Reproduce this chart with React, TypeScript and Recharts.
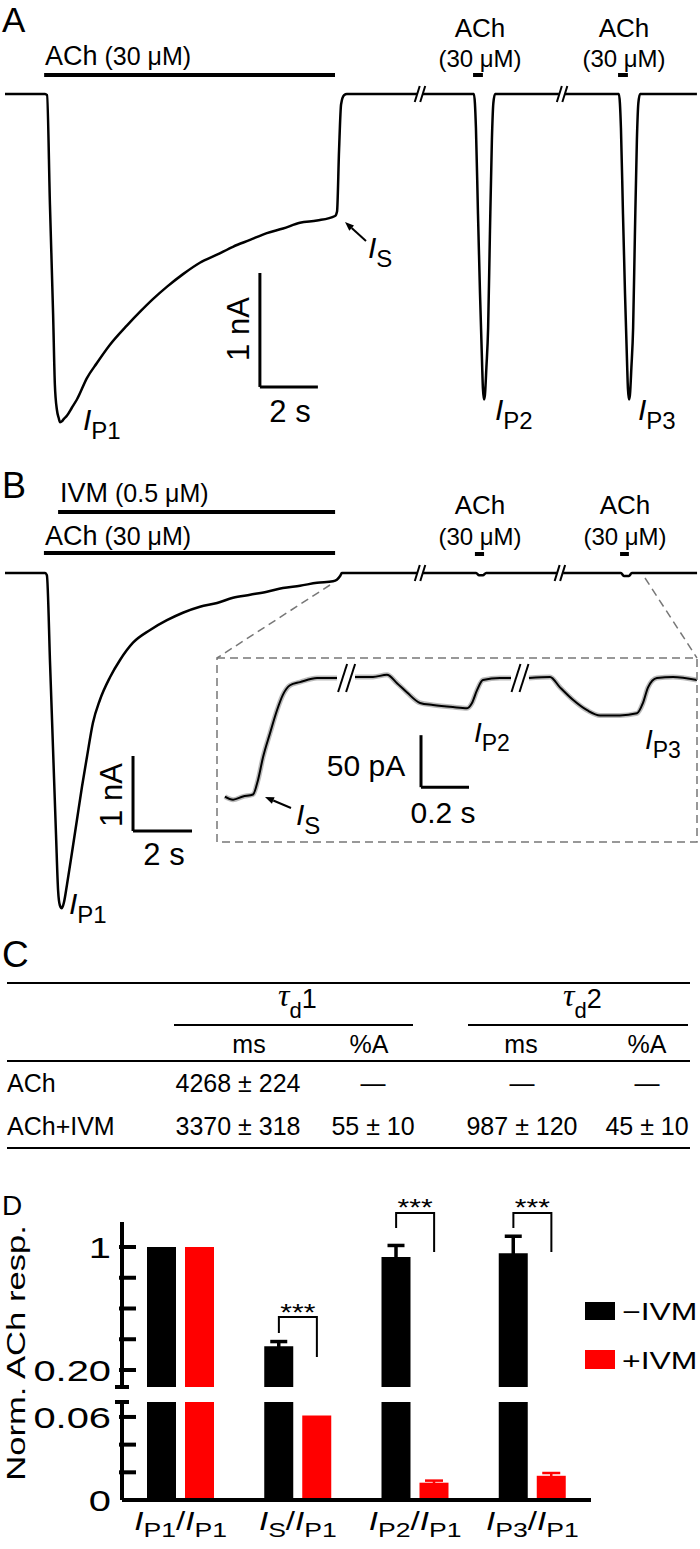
import React from 'react';
import { LineChart, Line, XAxis, YAxis, ReferenceLine, BarChart, Bar, ErrorBar } from 'recharts';

const SANS = '"Liberation Sans", Arial, Helvetica, sans-serif';
const SERIF = '"Liberation Serif", "Times New Roman", serif';
const RED = '#ff0000';
const STRETCH = 1.33; // panel D lettering is set wide

// ---------- traces: [time (s), current] ; null marks an axis break ----------
const TRACE_A: [number, number | null][] = [
  [0, 0], [0.86, 0], [1.38, 0], [1.45, -0.01], [1.55, -0.97], [1.66, -1.94], [1.72, -2.55],
  [1.79, -2.77], [1.85, -2.84], [1.9, -2.88], [1.97, -2.87], [2.03, -2.85], [2.14, -2.82],
  [2.31, -2.75], [2.48, -2.68], [2.83, -2.49], [3.17, -2.36], [3.62, -2.2], [4.21, -2.03],
  [4.66, -1.91], [5.1, -1.8], [5.59, -1.69], [6.14, -1.58], [6.72, -1.48], [7.31, -1.41],
  [7.86, -1.34], [8.45, -1.28], [9.03, -1.22], [9.59, -1.18], [10.17, -1.13], [10.76, -1.11],
  [11.38, -1.07], [11.45, -1.03], [11.52, -0.49], [11.59, -0.09], [11.69, -0.01], [11.79, 0],
  [12.93, 0], [14.21, 0], [14.31, null], [14.41, 0], [15.34, 0],
  [16.17, 0], [16.24, -0.3], [16.31, -1.05], [16.38, -1.75], [16.45, -2.35], [16.48, -2.58],
  [16.52, -2.68], [16.55, -2.64], [16.6, -2.4], [16.66, -2.05], [16.72, -1.25], [16.79, -0.4],
  [16.84, -0.08], [16.9, 0], [18.1, 0], [19.1, 0], [19.21, null], [19.31, 0], [20.34, 0],
  [21.17, 0], [21.24, -0.3], [21.31, -1.05], [21.38, -1.75], [21.45, -2.35], [21.48, -2.58],
  [21.52, -2.68], [21.55, -2.64], [21.6, -2.4], [21.66, -2.05], [21.72, -1.25], [21.79, -0.4],
  [21.84, -0.08], [21.9, 0], [23.86, 0],
];

const TRACE_B: [number, number | null][] = [
  [0, 0], [1.36, 0], [1.42, -0.03], [1.53, -1.23], [1.63, -2.36], [1.73, -3.49], [1.8, -4.23],
  [1.86, -4.43], [1.93, -4.47], [2.0, -4.39], [2.1, -4.16], [2.27, -3.73], [2.44, -3.29],
  [2.61, -2.85], [2.78, -2.45], [2.98, -2.0], [3.22, -1.69], [3.56, -1.39], [3.9, -1.16],
  [4.34, -0.93], [4.92, -0.76], [5.49, -0.63], [6.03, -0.53], [6.61, -0.45], [7.19, -0.4],
  [7.73, -0.33], [8.31, -0.29], [8.88, -0.25], [9.42, -0.2], [10.0, -0.17], [10.58, -0.13],
  [11.12, -0.11], [11.25, -0.09], [11.36, -0.04], [11.42, 0], [12.71, 0], [13.97, 0],
  [14.07, null], [14.17, 0], [15.97, 0], [16.07, -0.03], [16.2, -0.03], [16.31, 0], [18.71, 0],
  [18.81, null], [18.92, 0], [20.88, 0], [20.98, -0.04], [21.15, -0.04], [21.25, 0], [23.46, 0],
];

// inset: time (s), current (pA) relative to the plateau
const TRACE_INSET: [number, number | null][] = [
  [0.033, -114], [0.067, -117], [0.108, -114], [0.15, -112], [0.171, -98], [0.192, -76],
  [0.221, -53], [0.25, -31], [0.275, -16], [0.304, -7], [0.346, -4], [0.417, 0], [0.5, 0],
  [0.54, null], [0.575, 1], [0.65, 1], [0.708, 3], [0.75, -5], [0.792, -14], [0.846, -24],
  [0.9, -26], [0.983, -28], [1.042, -29], [1.0625, -24], [1.083, -12], [1.108, -2], [1.179, 0],
  [1.225, 0], [1.2625, null], [1.3, 0], [1.3875, 1], [1.429, -9], [1.483, -21], [1.542, -31],
  [1.596, -36], [1.679, -36], [1.75, -34], [1.775, -24], [1.796, -9], [1.833, 0], [1.9, 1],
  [2.0, -2],
];

// drug application bars: [start s, end s, level]
const APPS_A: [number, number, number][] = [[1.35, 11.38, 0.167], [16.14, 16.48, 0.167], [21.14, 21.48, 0.167]];
const APPS_B: [number, number, number][] = [
  [1.8, 11.19, 0.813], [1.32, 11.19, 0.267], [15.93, 16.24, 0.253], [20.85, 21.15, 0.253],
];
const BREAKS_A = [14.31, 19.21];
const BREAKS_B = [14.07, 18.81];
const BREAKS_INSET = [0.54, 1.2625];

// ---------- panel C table ----------
const TABLE_ROWS = ['ACh', 'ACh+IVM'];
const TAU1_MS = ['4268 ± 224', '3370 ± 318'];
const TAU1_PCT = ['—', '55 ± 10'];
const TAU2_MS = ['—', '987 ± 120'];
const TAU2_PCT = ['—', '45 ± 10'];

// ---------- panel D bars ----------
const CATEGORIES = ['IP1/IP1', 'IS/IP1', 'IP2/IP1', 'IP3/IP1'];
const X_SUBS = ['P1', 'S', 'P2', 'P3'];
const MINUS_IVM = [1, 0.355, 0.935, 0.96];
const MINUS_IVM_ERR = [0, 0.03, 0.075, 0.11];
const PLUS_IVM = [1, 0.061, 0.0125, 0.0175];
const PLUS_IVM_ERR = [0, 0, 0.0015, 0.002];
const UPPER_TICKS = [0.2, 0.4, 0.6, 0.8, 1];
const LOWER_TICKS = [0, 0.02, 0.04, 0.06];
const UPPER_LABELS: Record<string, string> = { '1': '1', '0.2': '0.20' };
const LOWER_LABELS: Record<string, string> = { '0': '0', '0.06': '0.06' };

const UP_MIN = 0.0894;
const UP_MAX = 1.1626;
const LOW_MAX = 0.0708;

const toRows = (tr: [number, number | null][]) => tr.map(([t, i]) => ({ t, i }));

const slashes = (tc: number, yc: number, tpp: number, ipp: number, off: number, hw: number, hh: number) =>
  [-1, 1].map((k) => {
    const cx = tc + k * off * tpp;
    return [
      { x: cx - hw * tpp, y: yc - hh * ipp },
      { x: cx + hw * tpp, y: yc + hh * ipp },
    ];
  });

const ISub = ({ x, y, sub, size = 30, subSize = 24, shift = 9 }: any) => (
  <text x={x} y={y} fontSize={size} fontFamily={SANS}>
    <tspan fontStyle="italic">I</tspan>
    <tspan fontSize={subSize} dy={shift}>{sub}</tspan>
  </text>
);

const Arrow = ({ tip, tail }: { tip: [number, number]; tail: [number, number] }) => {
  const dx = tail[0] - tip[0];
  const dy = tail[1] - tip[1];
  const len = Math.hypot(dx, dy);
  const ux = dx / len;
  const uy = dy / len;
  const bx = tip[0] + ux * 9;
  const by = tip[1] + uy * 9;
  const px = -uy * 3.5;
  const py = ux * 3.5;
  return (
    <g>
      <line x1={bx} y1={by} x2={tail[0]} y2={tail[1]} stroke="#000" strokeWidth={2} />
      <polygon points={`${tip[0]},${tip[1]} ${bx + px},${by + py} ${bx - px},${by - py}`} fill="#000" />
    </g>
  );
};

const DrugLabel = ({ cx, y1, y2 }: { cx: number; y1: number; y2: number }) => (
  <g fontFamily={SANS} textAnchor="middle">
    <text x={cx} y={y1} fontSize={26}>ACh</text>
    <text x={cx} y={y2} fontSize={24}>(30 μM)</text>
  </g>
);

const YTick = ({ x, y, payload, labels, cap }: any) => {
  const v = payload.value;
  const label = labels[String(v)];
  const isCap = Math.abs(v - cap) < 1e-9;
  return (
    <g>
      {isCap ? (
        <line x1={x - 7} x2={x + 7} y1={y} y2={y} stroke="#000" strokeWidth={4} />
      ) : v !== 0 ? (
        <line x1={x - 3} x2={x + 14} y1={y} y2={y} stroke="#000" strokeWidth={4} />
      ) : null}
      {label && (
        <g transform={`translate(${x - 11},${y + 11}) scale(${STRETCH},1)`}>
          <text x={0} y={0} textAnchor="end" fontSize={30} fontFamily={SANS}>{label}</text>
        </g>
      )}
    </g>
  );
};

const XTick = ({ x, y, payload }: any) => {
  const k = CATEGORIES.indexOf(payload.value);
  return (
    <g transform={`translate(${x},${y + 30}) scale(${STRETCH},1)`}>
      <text x={0} y={0} textAnchor="middle" fontSize={25} fontFamily={SANS}>
        <tspan fontStyle="italic">I</tspan>
        <tspan fontSize={20} dy={7}>{X_SUBS[k]}</tspan>
        <tspan dy={-7}>/</tspan>
        <tspan fontStyle="italic">I</tspan>
        <tspan fontSize={20} dy={7}>P1</tspan>
      </text>
    </g>
  );
};

// panel D plot geometry
const D_LEFT = 122;
const D_RIGHT = 591;
const Y_AXIS_W = 60;
const bandW = (D_RIGHT - D_LEFT) / CATEGORIES.length;
const blackX = (k: number) => D_LEFT + bandW * (k + 0.5) - 19;
const redX = (k: number) => D_LEFT + bandW * (k + 0.5) + 19;

const Bracket = ({ k, top, leftEnd, rightEnd, starY }: any) => (
  <g>
    <polyline
      points={`${blackX(k)},${leftEnd} ${blackX(k)},${top} ${redX(k)},${top} ${redX(k)},${rightEnd}`}
      fill="none"
      stroke="#000"
      strokeWidth={2}
    />
    <g transform={`translate(${(blackX(k) + redX(k)) / 2},${starY}) scale(1.25,1)`}>
      <text x={0} y={0} textAnchor="middle" fontSize={24} fontFamily={SANS}>***</text>
    </g>
  </g>
);

export default function App() {
  const rowsA = toRows(TRACE_A);
  const rowsB = toRows(TRACE_B);
  const rowsInset = toRows(TRACE_INSET);

  const upperData = CATEGORIES.map((name, k) => ({
    name,
    minus: MINUS_IVM[k] >= UP_MIN ? MINUS_IVM[k] : null,
    plus: PLUS_IVM[k] >= UP_MIN ? PLUS_IVM[k] : null,
    minusErr: MINUS_IVM_ERR[k],
  }));
  const lowerData = CATEGORIES.map((name, k) => ({
    name,
    minus: Math.min(MINUS_IVM[k], LOW_MAX),
    plus: Math.min(PLUS_IVM[k], LOW_MAX),
    plusErr: PLUS_IVM_ERR[k],
  }));

  const valCols = [238, 373, 522, 647];
  const headCols = [249, 369, 521, 647];
  const rowY = [1092, 1135];

  return (
    <div style={{ position: 'absolute', left: 0, top: 0, width: 700, height: 1549, background: '#fff', fontFamily: SANS }}>
      {/* Panel A */}
      <div style={{ position: 'absolute', left: 0, top: 0 }}>
        <LineChart width={700} height={450} data={rowsA} margin={{ top: 0, right: 0, bottom: 0, left: 0 }}>
          <XAxis type="number" dataKey="t" domain={[-0.172, 23.966]} hide allowDataOverflow />
          <YAxis type="number" domain={[-3.123, 0.825]} hide allowDataOverflow />
          <Line dataKey="i" type="monotone" stroke="#000" strokeWidth={2.5} dot={false} activeDot={false} isAnimationActive={false} connectNulls={false} />
          {APPS_A.map(([a, b, lv], k) => (
            <ReferenceLine key={`aa${k}`} segment={[{ x: a, y: lv }, { x: b, y: lv }]} stroke="#000" strokeWidth={4} ifOverflow="visible" />
          ))}
          {BREAKS_A.flatMap((tc, k) =>
            slashes(tc, 0, 1 / 29, 1 / 114, 2.75, 2.5, 8).map((seg, j) => (
              <ReferenceLine key={`ab${k}${j}`} segment={seg} stroke="#000" strokeWidth={2} ifOverflow="visible" />
            ))
          )}
          <ReferenceLine segment={[{ x: 8.79, y: -2.57 }, { x: 8.79, y: -1.57 }]} stroke="#000" strokeWidth={3} ifOverflow="visible" />
          <ReferenceLine segment={[{ x: 8.79, y: -2.57 }, { x: 10.79, y: -2.57 }]} stroke="#000" strokeWidth={3} ifOverflow="visible" />
        </LineChart>
      </div>

      {/* Panel B */}
      <div style={{ position: 'absolute', left: 0, top: 470 }}>
        <LineChart width={700} height={450} data={rowsB} margin={{ top: 0, right: 0, bottom: 0, left: 0 }}>
          <XAxis type="number" dataKey="t" domain={[-0.169, 23.56]} hide allowDataOverflow />
          <YAxis type="number" domain={[-4.627, 1.373]} hide allowDataOverflow />
          <Line dataKey="i" type="monotone" stroke="#000" strokeWidth={2.5} dot={false} activeDot={false} isAnimationActive={false} connectNulls={false} />
          {APPS_B.map(([a, b, lv], k) => (
            <ReferenceLine key={`ba${k}`} segment={[{ x: a, y: lv }, { x: b, y: lv }]} stroke="#000" strokeWidth={4} ifOverflow="visible" />
          ))}
          {BREAKS_B.flatMap((tc, k) =>
            slashes(tc, 0, 1 / 29.5, 1 / 75, 2.75, 2.5, 8).map((seg, j) => (
              <ReferenceLine key={`bb${k}${j}`} segment={seg} stroke="#000" strokeWidth={2} ifOverflow="visible" />
            ))
          )}
          <ReferenceLine segment={[{ x: 4.34, y: -3.44 }, { x: 4.34, y: -2.44 }]} stroke="#000" strokeWidth={3} ifOverflow="visible" />
          <ReferenceLine segment={[{ x: 4.34, y: -3.44 }, { x: 6.34, y: -3.44 }]} stroke="#000" strokeWidth={3} ifOverflow="visible" />
        </LineChart>
      </div>

      {/* Inset */}
      <div style={{ position: 'absolute', left: 217, top: 658 }}>
        <LineChart width={480} height={184} data={rowsInset} margin={{ top: 0, right: 0, bottom: 0, left: 0 }}>
          <XAxis type="number" dataKey="t" domain={[0, 2]} hide allowDataOverflow />
          <YAxis type="number" domain={[-157.7, 19.2]} hide allowDataOverflow />
          <Line dataKey="i" type="monotone" stroke="#777" strokeOpacity={0.5} strokeWidth={5} dot={false} activeDot={false} isAnimationActive={false} connectNulls={false} />
          <Line dataKey="i" type="monotone" stroke="#000" strokeWidth={2} dot={false} activeDot={false} isAnimationActive={false} connectNulls={false} />
          {BREAKS_INSET.flatMap((tc, k) =>
            slashes(tc, 0, 1 / 240, 1 / 1.04, 4, 4.5, 14).map((seg, j) => (
              <ReferenceLine key={`ib${k}${j}`} segment={seg} stroke="#000" strokeWidth={2} ifOverflow="visible" />
            ))
          )}
          <ReferenceLine segment={[{ x: 0.85, y: -105 }, { x: 0.85, y: -55 }]} stroke="#000" strokeWidth={3} ifOverflow="visible" />
          <ReferenceLine segment={[{ x: 0.85, y: -105 }, { x: 1.05, y: -105 }]} stroke="#000" strokeWidth={3} ifOverflow="visible" />
        </LineChart>
      </div>

      {/* Panel D upper segment */}
      <div style={{ position: 'absolute', left: 0, top: 1170 }}>
        <BarChart width={700} height={230} data={upperData} margin={{ top: 52, right: 700 - D_RIGHT, bottom: 13, left: D_LEFT - Y_AXIS_W }} barSize={29} barGap={9}>
          <XAxis dataKey="name" hide />
          <YAxis
            type="number"
            domain={[UP_MIN, UP_MAX]}
            allowDataOverflow
            ticks={[UP_MIN, ...UPPER_TICKS]}
            interval={0}
            width={Y_AXIS_W}
            tickSize={0}
            tickMargin={0}
            axisLine={{ stroke: '#000', strokeWidth: 4 }}
            tickLine={false}
            tick={(p: any) => <YTick {...p} labels={UPPER_LABELS} cap={UP_MIN} />}
          />
          <Bar dataKey="minus" fill="#000" isAnimationActive={false}>
            <ErrorBar dataKey="minusErr" width={8.5} stroke="#000" strokeWidth={3.5} direction="y" />
          </Bar>
          <Bar dataKey="plus" fill={RED} isAnimationActive={false} />
        </BarChart>
      </div>

      {/* Panel D lower segment */}
      <div style={{ position: 'absolute', left: 0, top: 1390 }}>
        <BarChart width={700} height={159} data={lowerData} margin={{ top: 12, right: 700 - D_RIGHT, bottom: 0, left: D_LEFT - Y_AXIS_W }} barSize={29} barGap={9}>
          <XAxis
            dataKey="name"
            height={49}
            interval={0}
            tickSize={0}
            tickMargin={0}
            axisLine={{ stroke: '#000', strokeWidth: 4 }}
            tickLine={false}
            tick={(p: any) => <XTick {...p} />}
          />
          <YAxis
            type="number"
            domain={[0, LOW_MAX]}
            allowDataOverflow
            ticks={[...LOWER_TICKS, LOW_MAX]}
            interval={0}
            width={Y_AXIS_W}
            tickSize={0}
            tickMargin={0}
            axisLine={{ stroke: '#000', strokeWidth: 4 }}
            tickLine={false}
            tick={(p: any) => <YTick {...p} labels={LOWER_LABELS} cap={LOW_MAX} />}
          />
          <Bar dataKey="minus" fill="#000" isAnimationActive={false} />
          <Bar dataKey="plus" fill={RED} isAnimationActive={false}>
            <ErrorBar dataKey="plusErr" width={9} stroke={RED} strokeWidth={2.5} direction="y" />
          </Bar>
        </BarChart>
      </div>

      {/* annotations */}
      <svg width={700} height={1549} style={{ position: 'absolute', left: 0, top: 0, pointerEvents: 'none' }} fontFamily={SANS}>
        {/* panel letters */}
        <text x={2} y={32} fontSize={35}>A</text>
        <text x={2} y={498} fontSize={36}>B</text>
        <text x={2} y={967} fontSize={37}>C</text>
        <text x={2} y={1215} fontSize={28}>D</text>

        {/* panel A */}
        <text x={45} y={65} fontSize={27}>ACh<tspan fontSize={25}> (30 μM)</tspan></text>
        <DrugLabel cx={480} y1={37} y2={67} />
        <DrugLabel cx={624} y1={37} y2={67} />
        <text transform="translate(249,329) rotate(-90)" textAnchor="middle" fontSize={31}>1 nA</text>
        <text x={290} y={422} textAnchor="middle" fontSize={31}>2 s</text>
        <ISub x={83} y={430} sub="P1" />
        <ISub x={495} y={420} sub="P2" />
        <ISub x={638} y={420} sub="P3" />
        <ISub x={368} y={258} sub="S" />
        <Arrow tip={[345, 222]} tail={[366, 241]} />

        {/* panel B */}
        <text x={60} y={502} fontSize={27}>IVM<tspan fontSize={25}> (0.5 μM)</tspan></text>
        <text x={45} y={545} fontSize={27}>ACh<tspan fontSize={25}> (30 μM)</tspan></text>
        <DrugLabel cx={480} y1={514} y2={545} />
        <DrugLabel cx={625} y1={514} y2={545} />
        <text transform="translate(122,795) rotate(-90)" textAnchor="middle" fontSize={31}>1 nA</text>
        <text x={164} y={865} textAnchor="middle" fontSize={31}>2 s</text>
        <ISub x={69} y={914} sub="P1" />

        {/* inset frame and zoom lines */}
        <g stroke="#777" strokeWidth={1.5} strokeDasharray="8 5" fill="none">
          <line x1={330} y1={585} x2={217} y2={658} />
          <line x1={645} y1={578} x2={697} y2={658} />
          <rect x={217} y={658} width={480} height={184} />
        </g>
        <text x={366} y={776} textAnchor="middle" fontSize={30}>50 pA</text>
        <text x={443} y={823} textAnchor="middle" fontSize={30}>0.2 s</text>
        <ISub x={296} y={825} sub="S" />
        <Arrow tip={[265, 797]} tail={[291, 808]} />
        <ISub x={474} y={742} sub="P2" size={28} subSize={23} shift={9} />
        <ISub x={645} y={749} sub="P3" size={28} subSize={23} shift={9} />

        {/* panel C table */}
        <g stroke="#000" strokeWidth={2}>
          <line x1={7} y1={983} x2={690} y2={983} />
          <line x1={174} y1={1025} x2={413} y2={1025} />
          <line x1={468} y1={1025} x2={688} y2={1025} />
          <line x1={7} y1={1061} x2={690} y2={1061} />
          <line x1={7} y1={1148} x2={690} y2={1148} />
        </g>
        {['1', '2'].map((n, k) => (
          <text key={n} x={k === 0 ? 278 : 563} y={1006} fontSize={27}>
            <tspan fontFamily={SERIF} fontStyle="italic" fontSize={32}>τ</tspan>
            <tspan fontSize={22} dy={12}>d</tspan>
            <tspan dy={-10}>{n}</tspan>
          </text>
        ))}
        {['ms', '%A', 'ms', '%A'].map((h, k) => (
          <text key={k} x={headCols[k]} y={1053} textAnchor="middle" fontSize={25}>{h}</text>
        ))}
        {TABLE_ROWS.map((r, k) => (
          <g key={r} fontSize={25}>
            <text x={7} y={rowY[k]}>{r}</text>
            <text x={valCols[0]} y={rowY[k]} textAnchor="middle">{TAU1_MS[k]}</text>
            <text x={valCols[1]} y={rowY[k]} textAnchor="middle">{TAU1_PCT[k]}</text>
            <text x={valCols[2]} y={rowY[k]} textAnchor="middle">{TAU2_MS[k]}</text>
            <text x={valCols[3]} y={rowY[k]} textAnchor="middle">{TAU2_PCT[k]}</text>
          </g>
        ))}

        {/* panel D annotations */}
        <g transform={`translate(25,1353) rotate(-90) scale(${STRETCH},1)`}>
          <text x={0} y={0} textAnchor="middle" fontSize={26}>Norm. ACh resp.</text>
        </g>
        <Bracket k={1} top={1317} leftEnd={1333} rightEnd={1357} starY={1321} />
        <Bracket k={2} top={1213} leftEnd={1228} rightEnd={1252} starY={1216} />
        <Bracket k={3} top={1213} leftEnd={1228} rightEnd={1252} starY={1216} />
        <rect x={585} y={1302} width={30} height={18} fill="#000" />
        <rect x={585} y={1350} width={30} height={19} fill={RED} />
        <g transform={`translate(622,1320) scale(${STRETCH},1)`}>
          <text x={0} y={0} fontSize={24}>−IVM</text>
        </g>
        <g transform={`translate(622,1369) scale(${STRETCH},1)`}>
          <text x={0} y={0} fontSize={24}>+IVM</text>
        </g>
      </svg>
    </div>
  );
}
